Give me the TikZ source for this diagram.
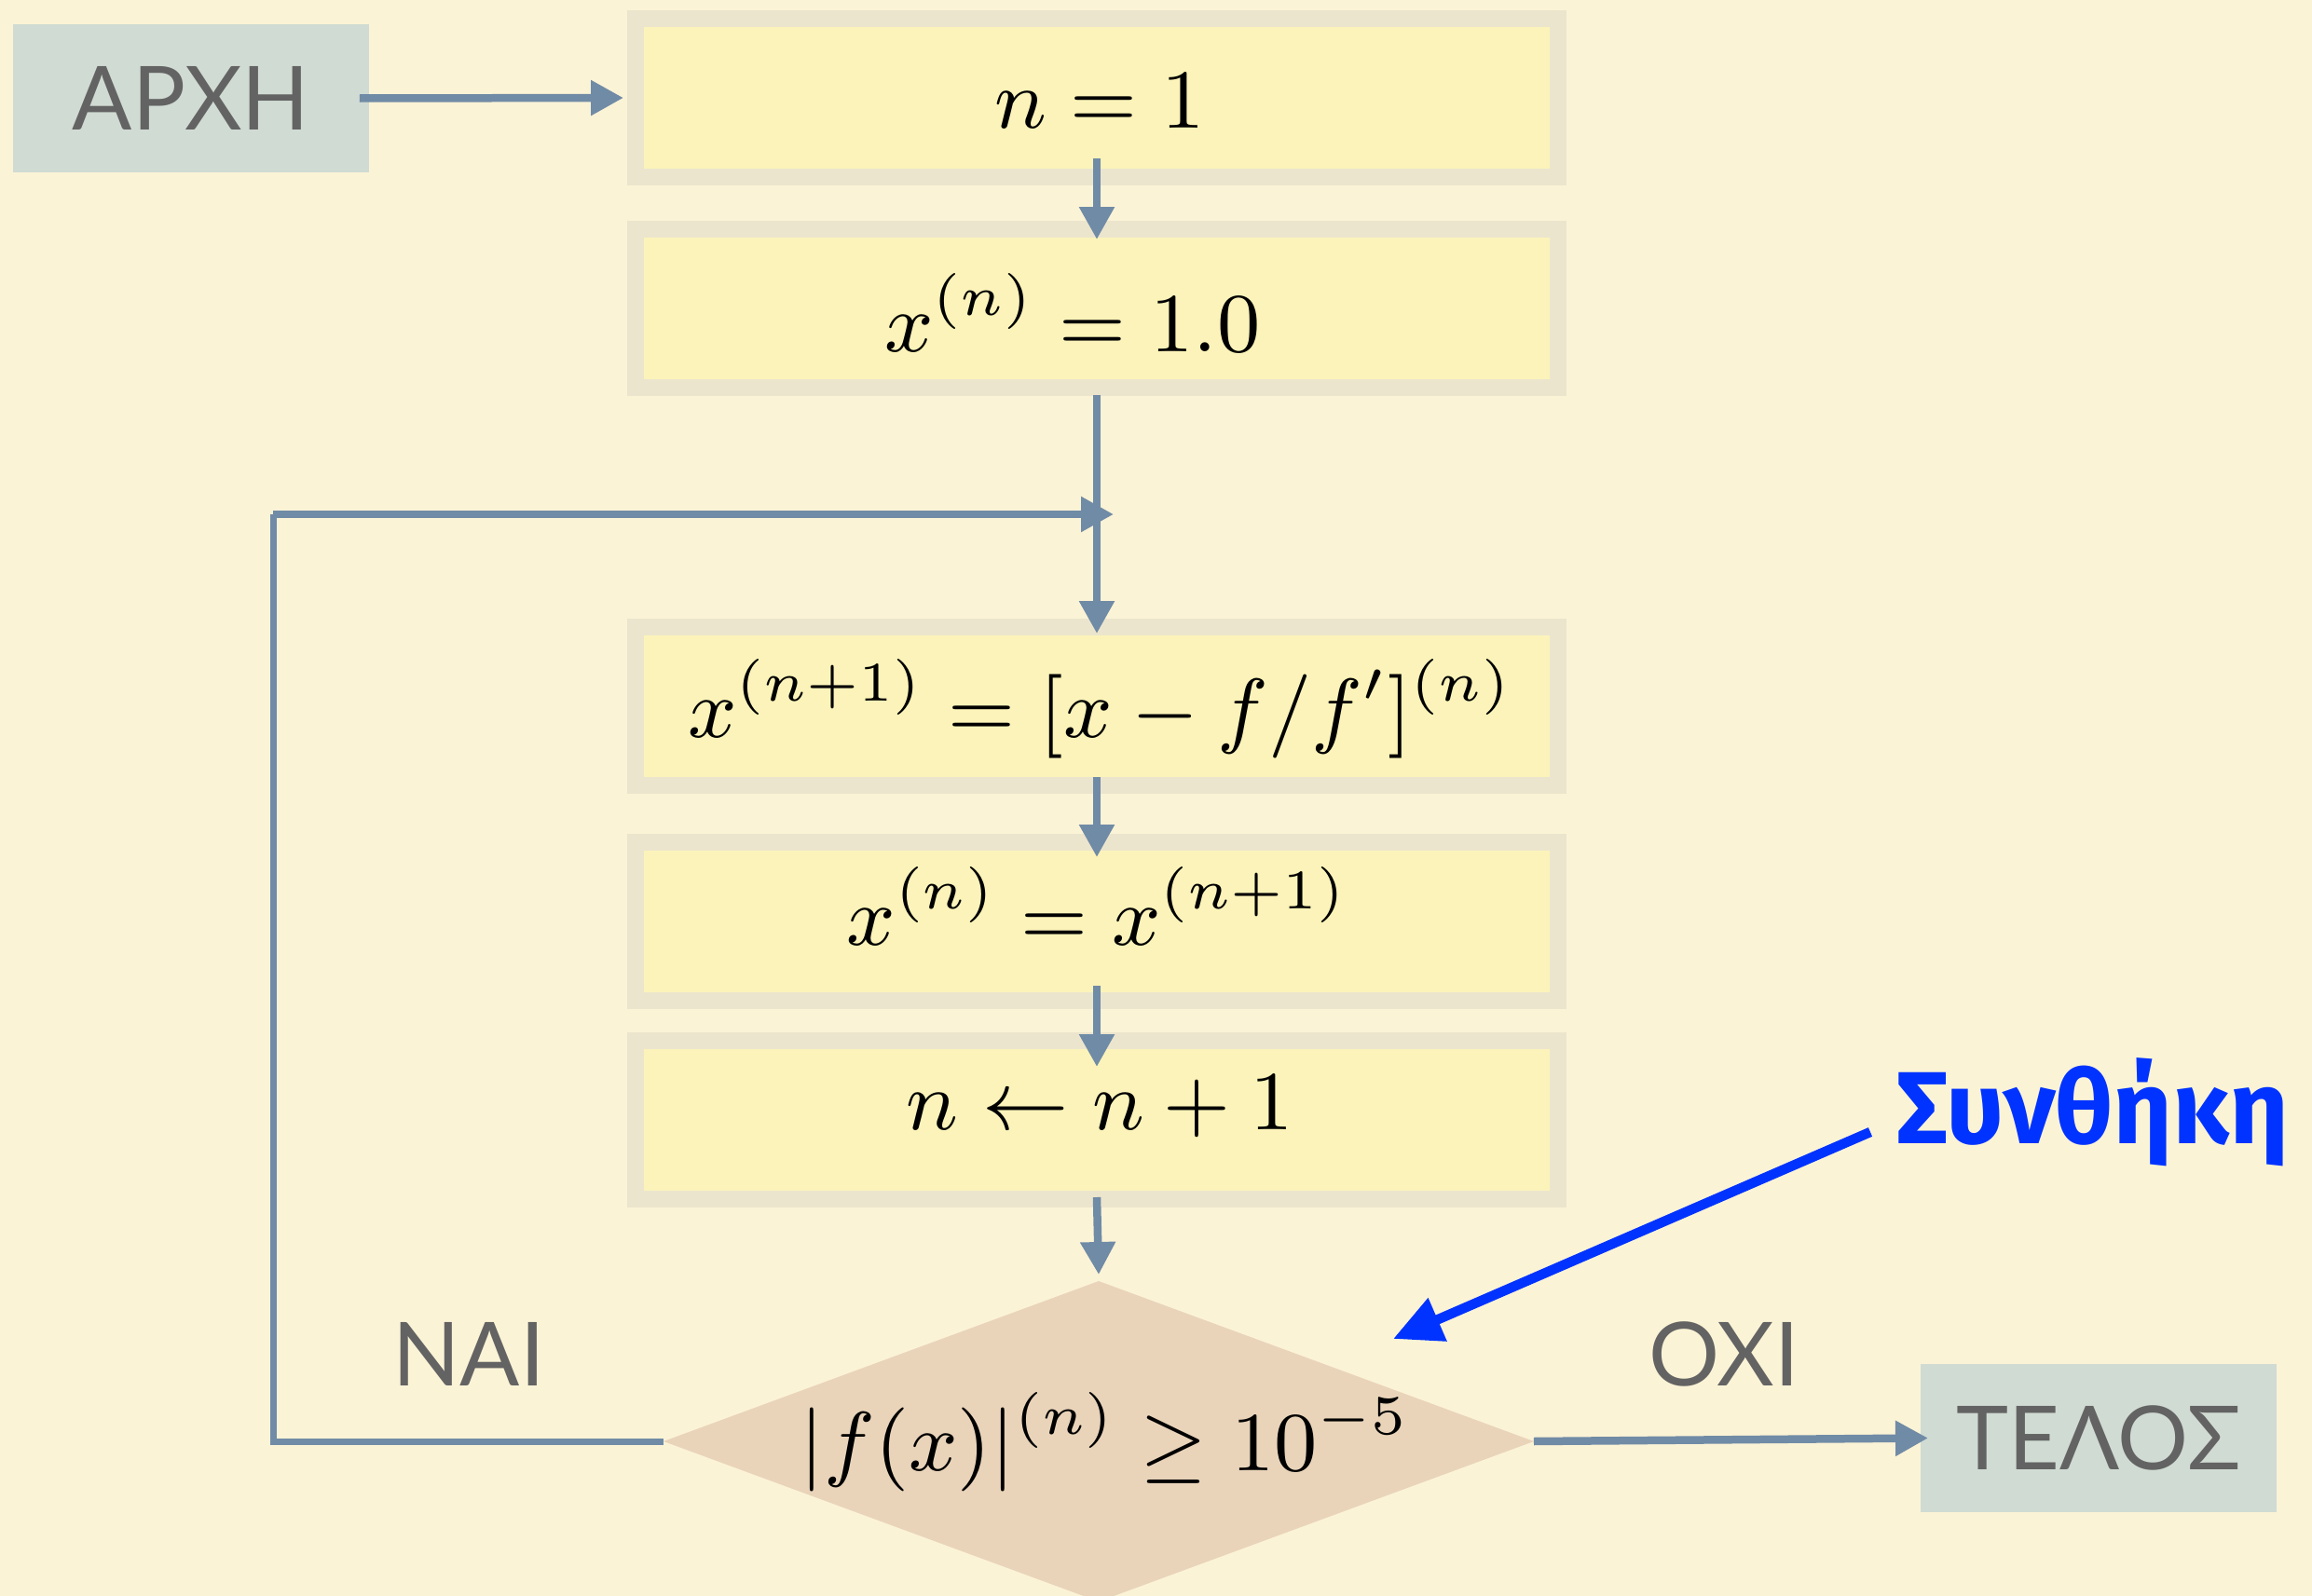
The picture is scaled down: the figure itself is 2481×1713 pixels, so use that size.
\documentclass[tikz,border=0pt]{standalone}
\usepackage{fontspec}
\usetikzlibrary{shapes.geometric,arrows.meta}
\newfontfamily\grkfont{Lato}
\newfontfamily\synfont{Fira Sans}
\definecolor{bgc}{RGB}{251,243,214}
\definecolor{boxc}{RGB}{251,243,185}
\definecolor{shadc}{RGB}{236,229,205}
\definecolor{termc}{RGB}{208,219,211}
\definecolor{diac}{RGB}{233,212,186}
\definecolor{arrc}{RGB}{112,139,166}
\definecolor{txtc}{RGB}{99,99,99}
\definecolor{bluec}{RGB}{0,51,255}
\begin{document}
\begin{tikzpicture}[x=0.1pt,y=-0.1pt,
  procbox/.style={rectangle, fill=boxc, draw=shadc, line width=1.8pt, minimum width=99pt, minimum height=17pt, inner sep=0pt, outer sep=0pt},
  termbox/.style={rectangle, fill=termc, minimum width=38.2pt, minimum height=15.9pt, inner sep=0pt, outer sep=0pt, text=txtc, font=\grkfont\fontsize{9.5}{11}\selectfont},
  decbox/.style={diamond, shape aspect=2.7, fill=diac, minimum width=93.4pt, minimum height=34.4pt, inner sep=0pt, outer sep=0pt},
  flow/.style={draw=arrc, line width=0.85pt, -{Triangle[length=3.5pt,width=3.6pt]}},
  loopline/.style={draw=arrc, line width=0.7pt},
  mathtxt/.style={inner sep=0pt, anchor=base, font=\fontsize{9.25}{12}\selectfont},
  lbl/.style={inner sep=0pt, anchor=base, text=txtc, font=\grkfont\fontsize{9.5}{11}\selectfont}
]
\useasboundingbox (0,0) rectangle (2481,1713);
\fill[bgc] (0,0) rectangle (2481,1713);

% nodes
\node[termbox] (start) at (205,105.5) {ΑΡΧΗ};
\node[procbox] (b1) at (1177,105) {};
\node[procbox] (b2) at (1177,331) {};
\node[procbox] (b3) at (1177,758) {};
\node[procbox] (b4) at (1177,988.5) {};
\node[procbox] (b5) at (1177,1202) {};
\node[decbox] (d) at (1179,1547) {};
\node[termbox] (end) at (2252,1543.5) {ΤΕΛΟΣ};

% texts
\node[mathtxt] (t1) at (1180,137) {$n=1$};
\node[mathtxt] (t2) at (1151,377) {$x^{(n)}=1.0$};
\node[mathtxt] (t3) at (1181,791) {$x^{(n+1)}=[x-f/f']^{(n)}$};
\node[mathtxt] (t4) at (1178,1014) {$x^{(n)}=x^{(n+1)}$};
\node[mathtxt] (t5) at (1180,1212) {$n\leftarrow n+1$};
\node[mathtxt] (t6) at (1186,1578) {$|f(x)|^{(n)}\geq 10^{-5}$};
\node[lbl] (nai) at (503,1487) {ΝΑΙ};
\node[lbl] (oxi) at (1850,1487) {ΟΧΙ};
\node[inner sep=0pt, anchor=base west, text=bluec, font=\synfont\bfseries\fontsize{11}{13}\selectfont] (syn) at (2033,1227) {Συνθήκη};

% coordinates
\coordinate (merge) at (1179,552);
\coordinate (corner) at (293,552);
\coordinate (ctip) at (1495,1437);

% connectors
\draw[flow] ([xshift=-1pt]start.east) -- ([xshift=-1.3pt]b1.west);
\draw[flow] ([yshift=2pt]b1.south) -- ([yshift=-1.1pt]b2.north);
\draw[flow] ([yshift=-0.8pt]b2.south) -- ([yshift=-0.7pt]b3.north);
\draw[loopline] (d.west) -| (corner);
\draw[flow] (corner) -- ([xshift=1.6pt]merge);
\draw[flow] ([yshift=0.9pt]b3.south) -- ([yshift=-1.65pt]b4.north);
\draw[flow] ([yshift=1.55pt]b4.south) -- ([yshift=-2.8pt]b5.north);
\draw[flow] ([yshift=0.2pt]b5.south) -- ([yshift=0.7pt]d.north);
\draw[flow] (d.east) -- ([xshift=0.8pt]end.west);
\draw[draw=bluec, line width=1.05pt, -{Triangle[length=5.2pt,width=4.8pt]}] ([xshift=-2.6pt,yshift=1.2pt]syn.base west) -- (ctip);
\end{tikzpicture}
\end{document}
